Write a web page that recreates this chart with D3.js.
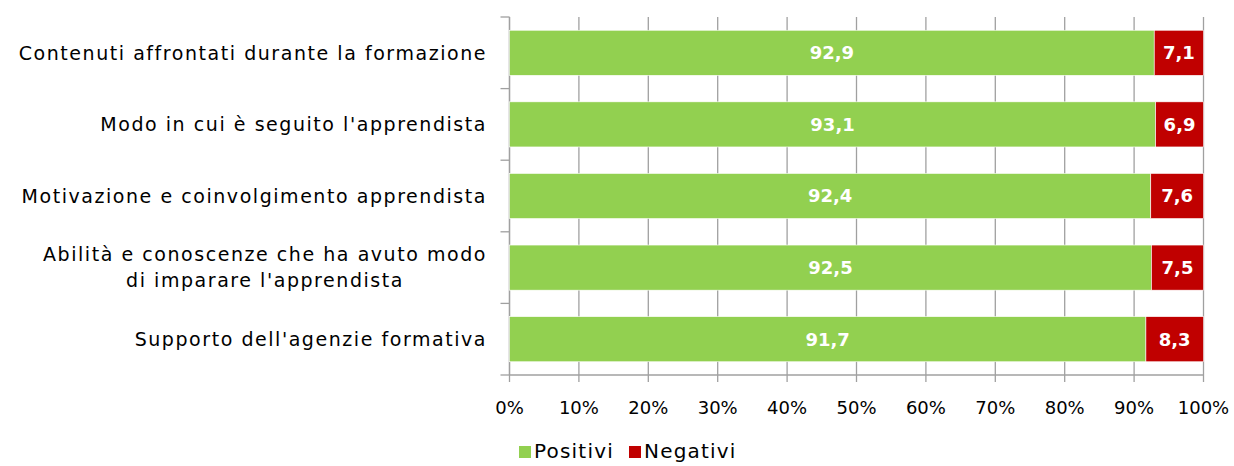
<!DOCTYPE html>
<html>
<head>
<meta charset="utf-8">
<script src="https://cdn.jsdelivr.net/npm/d3@7"></script>
<style>
  body { margin: 0; background: #fff; }
  text { font-family: "DejaVu Sans", sans-serif; }
</style>
</head>
<body>
<svg id="chart"></svg>
<script>
// Data
const categories = [
  ["Contenuti affrontati durante la formazione"],
  ["Modo in cui è seguito l'apprendista"],
  ["Motivazione e coinvolgimento apprendista"],
  ["Abilità e conoscenze che ha avuto modo", "di imparare l'apprendista"],
  ["Supporto dell'agenzie formativa"]
];
const positivi = [92.9, 93.1, 92.4, 92.5, 91.7];
const negativi = [7.1, 6.9, 7.6, 7.5, 8.3];
const seriesNames = ["Positivi", "Negativi"];
const seriesColors = ["#92D050", "#C00000"];
const xTicks = [0, 10, 20, 30, 40, 50, 60, 70, 80, 90, 100];

const W = 1234, H = 466;
const margin = { top: 17, right: 30, bottom: 91, left: 509.5 };
const width = 1203.5 - margin.left;
const height = 375 - margin.top;

const svg = d3.select("#chart").attr("width", W).attr("height", H);
const g = svg.append("g").attr("transform", `translate(${margin.left},${margin.top})`);

const x = d3.scaleLinear().domain([0, 100]).range([0, width]);
const y = d3.scaleBand().domain(d3.range(categories.length)).range([0, height]).paddingInner(0.37).paddingOuter(0.185);

// vertical gridlines
g.selectAll(".grid").data(xTicks).enter().append("line")
  .attr("x1", d => x(d)).attr("x2", d => x(d))
  .attr("y1", 0).attr("y2", height + 7)
  .attr("stroke", "#A0A0A0").attr("stroke-width", 1.3);

// left axis line and category boundary ticks
g.append("line").attr("x1", 0).attr("x2", 0).attr("y1", 0).attr("y2", height)
  .attr("stroke", "#A0A0A0").attr("stroke-width", 1.3);
const step = height / categories.length;
g.selectAll(".ltick").data(d3.range(categories.length + 1)).enter().append("line")
  .attr("x1", -9).attr("x2", 0)
  .attr("y1", d => d * step).attr("y2", d => d * step)
  .attr("stroke", "#A0A0A0").attr("stroke-width", 1.3);
// bottom axis line
g.append("line").attr("x1", 0).attr("x2", width).attr("y1", height).attr("y2", height)
  .attr("stroke", "#A0A0A0").attr("stroke-width", 1.3);

// stacked data
const rows = categories.map((c, i) => ({ i, Positivi: positivi[i], Negativi: negativi[i] }));
const stack = d3.stack().keys(seriesNames)(rows);

stack.forEach((layer, k) => {
  g.selectAll(".bar" + k).data(layer).enter().append("rect")
    .attr("x", d => x(d[0]))
    .attr("y", d => y(d.data.i))
    .attr("width", d => x(d[1]) - x(d[0]))
    .attr("height", y.bandwidth())
    .attr("fill", seriesColors[k])
    .attr("stroke", "#fff").attr("stroke-width", 0.6);
  g.selectAll(".lbl" + k).data(layer).enter().append("text")
    .attr("x", d => (x(d[0]) + x(d[1])) / 2)
    .attr("y", d => y(d.data.i) + y.bandwidth() / 2)
    .attr("dy", "0.36em")
    .attr("text-anchor", "middle")
    .attr("fill", "#fff")
    .style("font-size", "18px")
    .style("font-weight", "bold")
    .text(d => String(d.data[seriesNames[k]].toFixed(1)).replace(".", ","));
});

// category labels
categories.forEach((lines, i) => {
  const cy = y(i) + y.bandwidth() / 2;
  const t = svg.append("text")
    .style("font-size", "19px").style("letter-spacing", "1.55px").attr("fill", "#000");
  lines.forEach((ln, j) => {
    t.append("tspan").attr("x", 0)
      .attr("y", margin.top + cy + (j - (lines.length - 1) / 2) * 26)
      .attr("dy", "0.36em").text(ln);
  });
  // right align block, centre the lines inside it
  const widths = [];
  t.selectAll("tspan").each(function () { widths.push(this.getComputedTextLength()); });
  const maxW = d3.max(widths);
  const cx = 487 - maxW / 2;
  t.attr("text-anchor", "middle").selectAll("tspan").attr("x", cx);
});

// x tick labels
g.selectAll(".xl").data(xTicks).enter().append("text")
  .attr("x", d => x(d)).attr("y", height + 33)
  .attr("dy", "0.36em").attr("text-anchor", "middle")
  .style("font-size", "18px").attr("fill", "#000")
  .text(d => d + "%");

// legend
const legend = svg.append("g");
const legX = [519, 629];
seriesNames.forEach((name, k) => {
  legend.append("rect").attr("x", legX[k]).attr("y", 446).attr("width", 12).attr("height", 12)
    .attr("fill", seriesColors[k]);
  legend.append("text").attr("x", legX[k] + 15).attr("y", 451).attr("dy", "0.36em")
    .style("font-size", "20px").style("letter-spacing", "1.2px")
    .attr("fill", "#000").text(name);
});
</script>
</body>
</html>
